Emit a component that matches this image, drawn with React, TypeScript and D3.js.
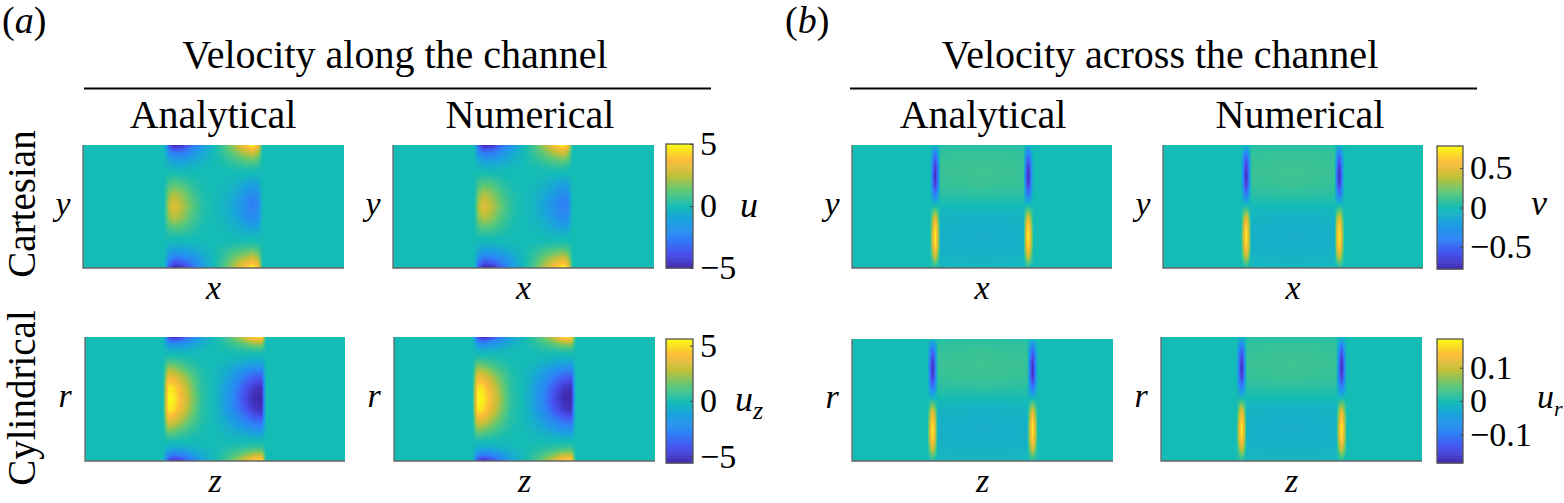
import { useEffect, useRef } from 'react';
import * as d3 from 'd3';

const FONT = '"Liberation Serif", "Times New Roman", serif';

// Colour map, bottom to top
const parula = ['#3e26a8', '#4752f0', '#2d83f6', '#1c9fe2', '#14bcb6', '#5cc878', '#c2c038', '#fdbb3a', '#f9fb15'];

// Stops of the u field (Cartesian), fractions of the panel
const uXs = [0.31, 0.33, 0.35, 0.38, 0.42, 0.46, 0.5, 0.54, 0.58, 0.62, 0.65, 0.67, 0.69];
const uYs = [0, 0.05, 0.1, 0.15, 0.2, 0.25, 0.32, 0.41, 0.5, 0.59, 0.68, 0.75, 0.8, 0.85, 0.9, 0.95, 1];
const uValues = [
  [0, -3.8, -5, -4.6, -3, -1.4, -0.2, 0.9, 2.2, 3.8, 5, 3.9, 0],
  [0, -2.4, -3.2, -3, -2, -1, -0.1, 0.7, 1.6, 2.6, 3.2, 2.5, 0],
  [0, -1.4, -1.9, -1.8, -1.3, -0.6, -0.1, 0.4, 1, 1.6, 1.9, 1.5, 0],
  [0, -0.6, -0.9, -0.9, -0.6, -0.3, 0, 0.2, 0.5, 0.8, 0.9, 0.7, 0],
  [0, -0.1, -0.2, -0.2, -0.1, -0.05, 0, 0, 0.1, 0.15, 0.2, 0.1, 0],
  [0, 0.2, 0.3, 0.2, 0.05, 0, 0, 0, -0.05, -0.15, -0.3, -0.2, 0],
  [0, 0.9, 1.2, 1, 0.4, 0.05, 0, -0.1, -0.4, -0.9, -1.3, -1, 0],
  [0, 1.9, 2.4, 1.9, 0.9, 0.2, 0, -0.3, -0.8, -1.6, -2.2, -1.9, 0],
  [0, 2.5, 3.1, 2.4, 1.2, 0.3, 0, -0.4, -1.1, -2, -2.7, -2.3, 0],
  [0, 1.9, 2.4, 1.9, 0.9, 0.2, 0, -0.3, -0.8, -1.6, -2.2, -1.9, 0],
  [0, 0.8, 1, 0.9, 0.4, 0.05, 0, -0.1, -0.4, -0.8, -1.1, -0.9, 0],
  [0, 0.1, 0.15, 0.1, 0.05, 0, 0, 0, -0.05, -0.1, -0.15, -0.1, 0],
  [0, -0.15, -0.25, -0.25, -0.15, -0.05, 0, 0, 0.1, 0.2, 0.25, 0.15, 0],
  [0, -0.8, -1.1, -1.1, -0.8, -0.4, 0, 0.3, 0.7, 1, 1.2, 0.9, 0],
  [0, -1.6, -2.2, -2.1, -1.5, -0.8, -0.1, 0.5, 1.3, 1.9, 2.3, 1.8, 0],
  [0, -2.7, -3.6, -3.4, -2.4, -1.1, -0.1, 0.8, 1.9, 3, 3.7, 2.9, 0],
  [0, -3.9, -5, -4.8, -3.2, -1.5, -0.2, 1, 2.4, 4, 5, 4, 0],
];

// Stops of the u_z field (cylindrical)
const uzXs = [0.3, 0.32, 0.34, 0.37, 0.41, 0.45, 0.49, 0.53, 0.57, 0.61, 0.65, 0.68, 0.697];
const uzYs = [0, 0.04, 0.08, 0.12, 0.16, 0.2, 0.25, 0.32, 0.41, 0.5, 0.59, 0.68, 0.75, 0.8, 0.84, 0.88, 0.92, 0.96, 1];
const uzValues = [
  [0, -4.4, -5.5, -4.6, -2.8, -1.2, -0.2, 0.5, 1.6, 3, 4.8, 5, 0],
  [0, -2.5, -3.1, -2.7, -1.7, -0.8, -0.1, 0.3, 1, 1.8, 2.8, 2.9, 0],
  [0, -1.1, -1.4, -1.3, -0.8, -0.4, -0.05, 0.2, 0.5, 0.9, 1.3, 1.3, 0],
  [0, -0.25, -0.3, -0.3, -0.2, -0.1, 0, 0.05, 0.1, 0.2, 0.3, 0.3, 0],
  [0, 0.2, 0.2, 0.15, 0.05, 0, 0, 0, -0.1, -0.15, -0.2, -0.2, 0],
  [0, 1, 1, 0.7, 0.3, 0.05, 0, -0.1, -0.4, -0.7, -1, -1, 0],
  [0, 2.2, 2.1, 1.5, 0.7, 0.15, 0, -0.4, -1, -1.6, -2.2, -2.3, 0],
  [0, 3.7, 3.6, 2.7, 1.4, 0.3, 0, -0.7, -1.7, -2.9, -3.8, -3.9, 0],
  [0, 5.2, 5, 3.8, 1.9, 0.4, 0, -1, -2.4, -3.9, -5, -5.3, 0],
  [0, 5.6, 5.4, 4.1, 2.2, 0.5, 0, -1.1, -2.6, -4.3, -5.4, -5.6, 0],
  [0, 5.2, 5, 3.7, 1.9, 0.4, 0, -1, -2.4, -3.8, -4.9, -5.2, 0],
  [0, 3.4, 3.3, 2.4, 1.2, 0.3, 0, -0.6, -1.5, -2.5, -3.4, -3.6, 0],
  [0, 1.9, 1.8, 1.3, 0.6, 0.1, 0, -0.3, -0.8, -1.3, -1.9, -2, 0],
  [0, 0.8, 0.8, 0.5, 0.2, 0.05, 0, -0.1, -0.3, -0.5, -0.8, -0.8, 0],
  [0, 0.1, 0.1, 0.05, 0, 0, 0, 0, -0.05, -0.1, -0.1, -0.1, 0],
  [0, -0.4, -0.5, -0.5, -0.3, -0.1, 0, 0.1, 0.2, 0.3, 0.5, 0.5, 0],
  [0, -1.3, -1.7, -1.6, -1, -0.5, -0.1, 0.2, 0.6, 1.1, 1.6, 1.6, 0],
  [0, -2.8, -3.5, -3.1, -2, -0.9, -0.1, 0.4, 1.2, 2.1, 3.2, 3.3, 0],
  [0, -4.5, -5.5, -4.8, -3, -1.3, -0.2, 0.6, 1.8, 3.2, 5, 5.2, 0],
];

// Stops of the v field (Cartesian)
const vXs = [0, 0.3, 0.31, 0.32, 0.33, 0.34, 0.5, 0.66, 0.668, 0.678, 0.688, 0.698, 1];
const vYs = [0, 0.04, 0.1, 0.18, 0.25, 0.32, 0.4, 0.47, 0.53, 0.6, 0.68, 0.75, 0.82, 0.9, 0.96, 1];
const vValues = [
  [0, 0, 0, -0.03, 0, 0.04, 0.05, 0.04, 0, -0.03, 0, 0, 0],
  [0, 0, -0.12, -0.3, -0.12, 0.07, 0.08, 0.07, -0.12, -0.3, -0.12, 0, 0],
  [0, 0, -0.3, -0.55, -0.3, 0.09, 0.1, 0.09, -0.3, -0.55, -0.3, 0, 0],
  [0, 0, -0.42, -0.72, -0.42, 0.1, 0.115, 0.1, -0.42, -0.72, -0.42, 0, 0],
  [0, 0, -0.45, -0.78, -0.45, 0.1, 0.115, 0.1, -0.45, -0.78, -0.45, 0, 0],
  [0, 0, -0.42, -0.72, -0.42, 0.09, 0.105, 0.09, -0.42, -0.72, -0.42, 0, 0],
  [0, 0, -0.27, -0.48, -0.27, 0.06, 0.07, 0.06, -0.27, -0.48, -0.27, 0, 0],
  [0, 0, -0.07, -0.12, -0.07, 0.02, 0.02, 0.02, -0.07, -0.12, -0.07, 0, 0],
  [0, 0, 0.1, 0.2, 0.1, -0.03, -0.04, -0.03, 0.1, 0.2, 0.1, 0, 0],
  [0, 0, 0.3, 0.55, 0.3, -0.06, -0.07, -0.06, 0.3, 0.55, 0.3, 0, 0],
  [0, 0, 0.42, 0.72, 0.42, -0.08, -0.09, -0.08, 0.42, 0.72, 0.42, 0, 0],
  [0, 0, 0.46, 0.78, 0.46, -0.08, -0.095, -0.08, 0.46, 0.78, 0.46, 0, 0],
  [0, 0, 0.42, 0.7, 0.42, -0.08, -0.09, -0.08, 0.42, 0.7, 0.42, 0, 0],
  [0, 0, 0.26, 0.48, 0.26, -0.06, -0.07, -0.06, 0.26, 0.48, 0.26, 0, 0],
  [0, 0, 0.08, 0.2, 0.08, -0.04, -0.05, -0.04, 0.08, 0.2, 0.08, 0, 0],
  [0, 0, 0, 0.03, 0, -0.02, -0.03, -0.02, 0, 0.03, 0, 0, 0],
];

// Stops of the u_r field (cylindrical)
const urXs = [0, 0.289, 0.299, 0.309, 0.319, 0.329, 0.5, 0.671, 0.682, 0.692, 0.702, 0.712, 1];
const urYs = [0, 0.04, 0.1, 0.18, 0.25, 0.32, 0.4, 0.47, 0.53, 0.6, 0.68, 0.75, 0.82, 0.9, 0.96, 1];
const urValues = [
  [0, 0, 0, -0.01, 0, 0.01, 0.012, 0.01, 0, -0.01, 0, 0, 0],
  [0, 0, -0.03, -0.07, -0.03, 0.017, 0.019, 0.017, -0.03, -0.07, -0.03, 0, 0],
  [0, 0, -0.07, -0.13, -0.07, 0.021, 0.024, 0.021, -0.07, -0.13, -0.07, 0, 0],
  [0, 0, -0.1, -0.17, -0.1, 0.024, 0.027, 0.024, -0.1, -0.17, -0.1, 0, 0],
  [0, 0, -0.107, -0.186, -0.107, 0.024, 0.027, 0.024, -0.107, -0.186, -0.107, 0, 0],
  [0, 0, -0.1, -0.17, -0.1, 0.021, 0.025, 0.021, -0.1, -0.17, -0.1, 0, 0],
  [0, 0, -0.064, -0.114, -0.064, 0.014, 0.017, 0.014, -0.064, -0.114, -0.064, 0, 0],
  [0, 0, -0.017, -0.029, -0.017, 0.005, 0.005, 0.005, -0.017, -0.029, -0.017, 0, 0],
  [0, 0, 0.024, 0.048, 0.024, -0.007, -0.01, -0.007, 0.024, 0.048, 0.024, 0, 0],
  [0, 0, 0.07, 0.13, 0.07, -0.015, -0.017, -0.015, 0.07, 0.13, 0.07, 0, 0],
  [0, 0, 0.1, 0.17, 0.1, -0.019, -0.021, -0.019, 0.1, 0.17, 0.1, 0, 0],
  [0, 0, 0.11, 0.186, 0.11, -0.019, -0.023, -0.019, 0.11, 0.186, 0.11, 0, 0],
  [0, 0, 0.1, 0.167, 0.1, -0.019, -0.021, -0.019, 0.1, 0.167, 0.1, 0, 0],
  [0, 0, 0.062, 0.114, 0.062, -0.014, -0.017, -0.014, 0.062, 0.114, 0.062, 0, 0],
  [0, 0, 0.019, 0.048, 0.019, -0.01, -0.012, -0.01, 0.019, 0.048, 0.019, 0, 0],
  [0, 0, 0, 0.007, 0, -0.005, -0.007, -0.005, 0, 0.007, 0, 0, 0],
];

const fields = {
  u: { xs: uXs, ys: uYs, values: uValues, max: 5 },
  uz: { xs: uzXs, ys: uzYs, values: uzValues, max: 5.6 },
  v: { xs: vXs, ys: vYs, values: vValues, max: 0.78 },
  ur: { xs: urXs, ys: urYs, values: urValues, max: 0.186 },
};

// Plot boxes: [field, x0, x1, y0, y1, xLabel, yLabel]
const panels: [keyof typeof fields, number, number, number, number, string, string][] = [
  ['u', 83, 344, 145, 268, 'x', 'y'],
  ['u', 393, 654, 145, 268, 'x', 'y'],
  ['uz', 85, 345, 337, 461, 'z', 'r'],
  ['uz', 394, 655, 337, 461, 'z', 'r'],
  ['v', 852, 1112, 145, 268, 'x', 'y'],
  ['v', 1163, 1423, 145, 268, 'x', 'y'],
  ['ur', 852, 1113, 339, 461, 'z', 'r'],
  ['ur', 1161, 1422, 337, 461, 'z', 'r'],
];

const colorbars: [keyof typeof fields, number, number, number, number, number[], string[]][] = [
  ['u', 666, 693, 144, 268, [-5, 0, 5], ['\u22125', '0', '5']],
  ['uz', 666, 693, 339, 463, [-5, 0, 5], ['\u22125', '0', '5']],
  ['v', 1437, 1463, 146, 269, [-0.5, 0, 0.5], ['\u22120.5', '0', '0.5']],
  ['ur', 1437, 1463, 339, 463, [-0.1, 0, 0.1], ['\u22120.1', '0', '0.1']],
];

const colorScale = (max: number) =>
  d3
    .scaleLinear<string>()
    .domain(d3.range(parula.length).map((i) => -max + (2 * max * i) / (parula.length - 1)))
    .range(parula)
    .clamp(true);

function makeImage(key: keyof typeof fields, w: number, h: number) {
  const { xs, ys, values, max } = fields[key];
  const color = colorScale(max);
  const xIndex = d3.scaleLinear().domain(xs).range(xs.map((_, i) => i)).clamp(true);
  const yIndex = d3.scaleLinear().domain(ys).range(ys.map((_, i) => i)).clamp(true);
  const canvas = document.createElement('canvas');
  canvas.width = w;
  canvas.height = h;
  const ctx = canvas.getContext('2d')!;
  const img = ctx.createImageData(w, h);
  for (let py = 0; py < h; py++) {
    const fy = yIndex((py + 0.5) / h);
    const r0 = Math.floor(fy);
    const r1 = Math.min(r0 + 1, ys.length - 1);
    for (let px = 0; px < w; px++) {
      const fx = xIndex((px + 0.5) / w);
      const c0 = Math.floor(fx);
      const c1 = Math.min(c0 + 1, xs.length - 1);
      const top = values[r0][c0] + (values[r0][c1] - values[r0][c0]) * (fx - c0);
      const bot = values[r1][c0] + (values[r1][c1] - values[r1][c0]) * (fx - c0);
      const c = d3.rgb(color(top + (bot - top) * (fy - r0)));
      const o = (py * w + px) * 4;
      img.data[o] = c.r;
      img.data[o + 1] = c.g;
      img.data[o + 2] = c.b;
      img.data[o + 3] = 255;
    }
  }
  ctx.putImageData(img, 0, 0);
  return canvas.toDataURL();
}

export default function App() {
  const ref = useRef<SVGSVGElement>(null);

  useEffect(() => {
    const svg = d3.select(ref.current);
    svg.selectAll('*').remove();
    svg.style('font-family', FONT).style('fill', '#000');

    const text = (x: number, y: number, s: string, size: number, anchor = 'middle', italic = false) =>
      svg
        .append('text')
        .attr('x', x)
        .attr('y', y)
        .attr('font-size', size)
        .attr('text-anchor', anchor)
        .attr('font-style', italic ? 'italic' : 'normal')
        .text(s);

    // Panels
    panels.forEach(([key, x0, x1, y0, y1, xl, yl]) => {
      svg
        .append('image')
        .attr('x', x0)
        .attr('y', y0)
        .attr('width', x1 - x0)
        .attr('height', y1 - y0)
        .attr('preserveAspectRatio', 'none')
        .attr('href', makeImage(key, (x1 - x0) * 2, (y1 - y0) * 2));
      svg
        .append('path')
        .attr('d', d3.line()([[x0, y0], [x0, y1], [x1, y1]]))
        .attr('fill', 'none')
        .attr('stroke', '#666')
        .attr('stroke-width', 1.3);
      text((x0 + x1) / 2, y1 + 31, xl, 34, 'middle', true);
      text(x0 - 20, (y0 + y1) / 2 + 8, yl, 34, 'middle', true);
    });

    // Colour bars
    colorbars.forEach(([key, x0, x1, y0, y1, ticks, labels]) => {
      const { max } = fields[key];
      const y = d3.scaleLinear().domain([-max, max]).range([y1, y0]);
      const color = colorScale(max);
      const levels = d3.range(64).map((i) => -max + ((2 * max) / 64) * i);
      svg
        .append('g')
        .selectAll('rect')
        .data(levels)
        .join('rect')
        .attr('x', x0)
        .attr('width', x1 - x0)
        .attr('y', (d) => y(d + (2 * max) / 64))
        .attr('height', (y1 - y0) / 64 + 0.5)
        .attr('fill', (d) => color(d + max / 64));
      svg
        .append('rect')
        .attr('x', x0)
        .attr('y', y0)
        .attr('width', x1 - x0)
        .attr('height', y1 - y0)
        .attr('fill', 'none')
        .attr('stroke', '#555')
        .attr('stroke-width', 1.3);
      const fmt = d3
        .axisRight(y)
        .tickValues(ticks)
        .tickSize(-3)
        .tickPadding(8)
        .tickFormat((_, i) => labels[i]);
      const g = svg
        .append('g')
        .attr('transform', `translate(${x1},0)`)
        .call(fmt as any);
      g.select('.domain').remove();
      g.selectAll('line').attr('stroke', '#444');
      g.selectAll('text').attr('font-size', 34).attr('font-family', FONT).attr('fill', '#000').attr('x', 7);
    });

    // Colour bar titles
    text(749, 217, 'u', 36, 'middle', true);
    text(1539, 215, 'v', 36, 'middle', true);
    const uz = text(735, 411, 'u', 36, 'start', true);
    uz.append('tspan').attr('dy', 8).attr('font-size', 26).text('z');
    const ur = text(1537, 408, 'u', 34, 'start', true);
    ur.append('tspan').attr('dy', 8).attr('font-size', 22).text('r');

    // Headers
    const label = (x: number, letter: string) => {
      const t = text(x, 33, '(', 38, 'start');
      t.append('tspan').attr('font-style', 'italic').text(letter);
      t.append('tspan').text(')');
    };
    label(2, 'a');
    label(785, 'b');

    text(395, 68, 'Velocity along the channel', 40);
    text(1160, 68, 'Velocity across the channel', 40);
    svg.append('line').attr('x1', 84).attr('x2', 711).attr('y1', 88.5).attr('y2', 88.5).attr('stroke', '#000').attr('stroke-width', 2);
    svg.append('line').attr('x1', 850).attr('x2', 1477).attr('y1', 88.5).attr('y2', 88.5).attr('stroke', '#000').attr('stroke-width', 2);

    [213, 530, 983, 1300].forEach((x, i) => text(x, 128, i % 2 ? 'Numerical' : 'Analytical', 40));

    const side = (s: string, cy: number) =>
      svg
        .append('text')
        .attr('transform', `translate(35,${cy}) rotate(-90)`)
        .attr('font-size', 39)
        .attr('text-anchor', 'middle')
        .text(s);
    side('Cartesian', 204);
    side('Cylindrical', 398);
  }, []);

  return <svg ref={ref} width={1564} height={503} style={{ position: 'absolute', left: 0, top: 0, background: '#fff' }} />;
}
